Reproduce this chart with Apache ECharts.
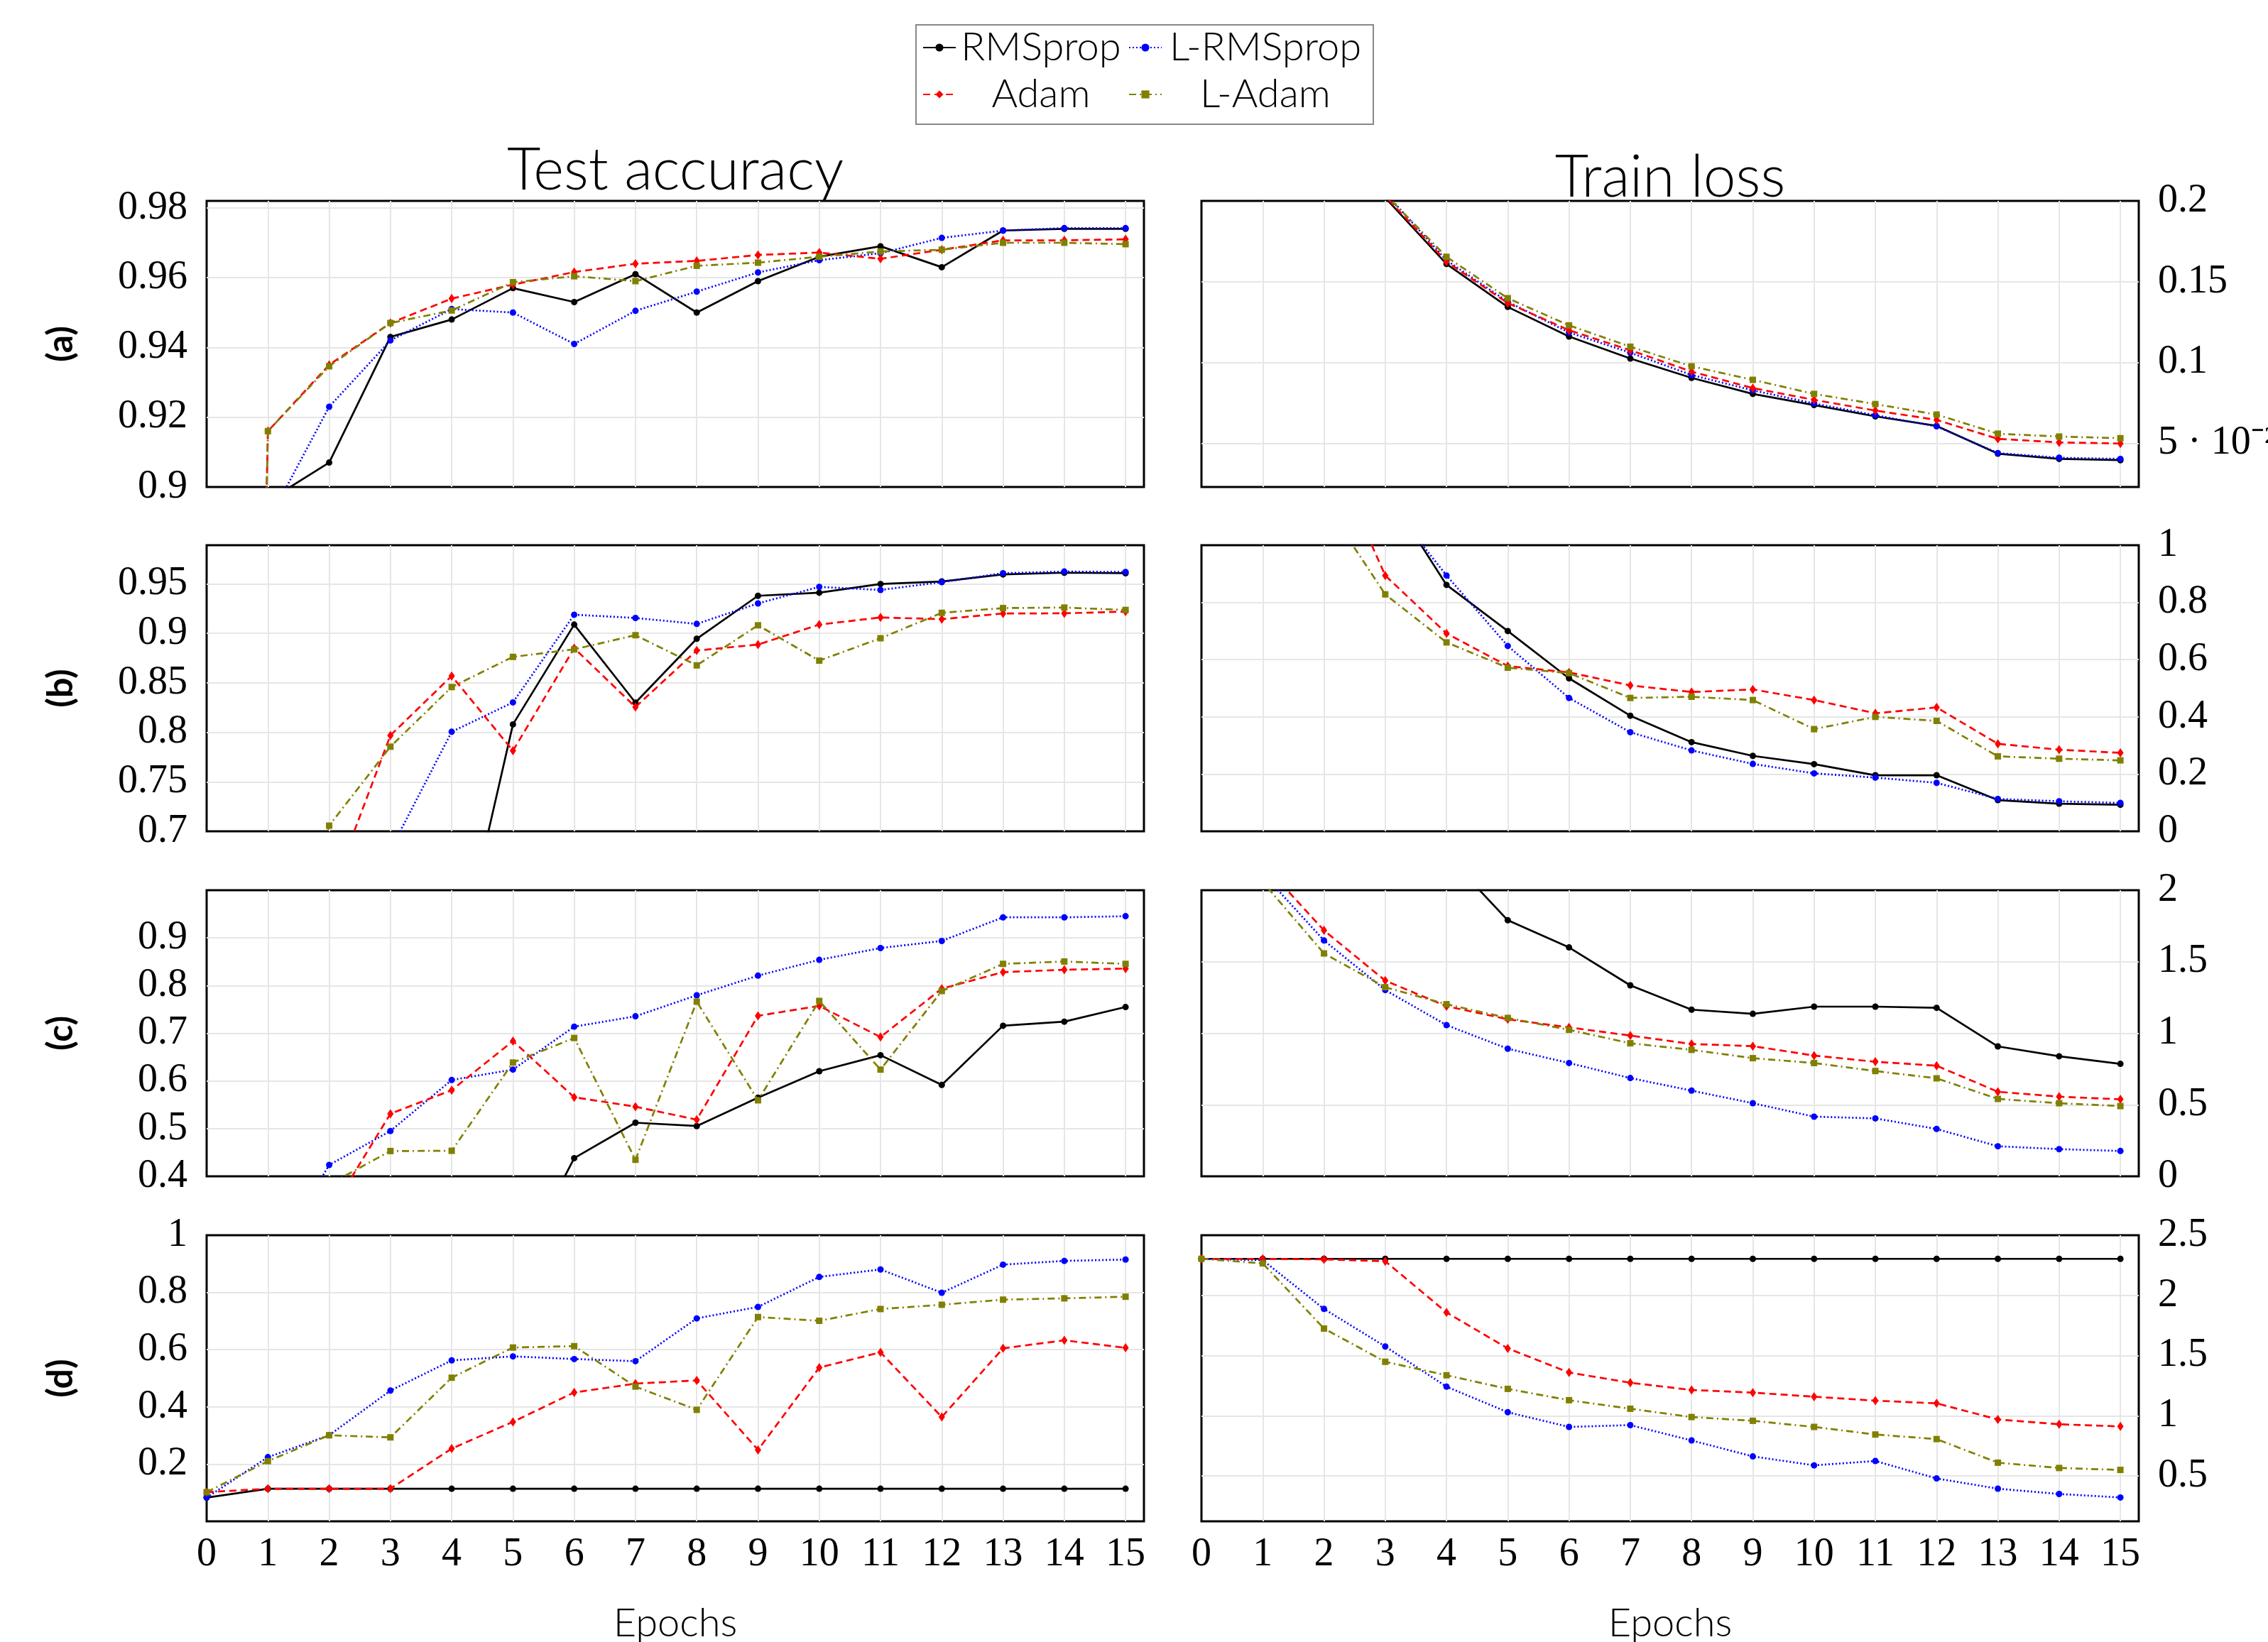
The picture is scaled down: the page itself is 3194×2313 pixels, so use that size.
<!DOCTYPE html>
<html><head><meta charset="utf-8">
<script src="https://cdn.jsdelivr.net/npm/echarts@6/dist/echarts.min.js"></script>
<style>html,body{margin:0;padding:0;background:#fff}#c{width:3194px;height:2313px}</style>
</head><body><div id="c"></div>
<script>
// ---------- DATA ----------
const epochs = [0,1,2,3,4,5,6,7,8,9,10,11,12,13,14,15];
const methodNames = ['RMSprop','L-RMSprop','Adam','L-Adam'];

// (a)
const accA_RMSprop  = [0.100,0.896,0.907,0.943,0.948,0.957,0.953,0.961,0.950,0.959,0.966,0.969,0.963,0.9735,0.974,0.974];
const accA_LRMSprop = [0.100,0.890,0.923,0.942,0.951,0.950,0.941,0.9505,0.956,0.9615,0.965,0.967,0.9714,0.9735,0.9742,0.9742];
const accA_Adam     = [0.100,0.916,0.935,0.947,0.954,0.958,0.9616,0.964,0.9648,0.9665,0.9672,0.9654,0.968,0.9707,0.9707,0.971];
const accA_LAdam    = [0.100,0.916,0.9346,0.947,0.9506,0.9587,0.9604,0.959,0.9634,0.9643,0.966,0.9675,0.968,0.970,0.970,0.9696];
const lossA_RMSprop  = [2.30,0.42,0.26,0.202,0.161,0.1344,0.1161,0.1025,0.0905,0.0806,0.0737,0.0667,0.0608,0.0436,0.0404,0.0396];
const lossA_LRMSprop = [2.30,0.43,0.27,0.205,0.1632,0.1376,0.1186,0.1061,0.0923,0.0828,0.0747,0.0674,0.0605,0.0440,0.0411,0.0404];
const lossA_Adam     = [2.30,0.43,0.27,0.203,0.1624,0.1368,0.1200,0.1076,0.0944,0.0842,0.0769,0.0703,0.0645,0.0528,0.0506,0.0499];
const lossA_LAdam    = [2.30,0.44,0.28,0.204,0.1654,0.1398,0.1230,0.1098,0.0977,0.0893,0.0806,0.0743,0.0678,0.0560,0.0542,0.0532];
// (b)
const accB_RMSprop  = [0.100,0.20,0.32,0.45,0.538,0.808,0.9088,0.830,0.8945,0.9379,0.941,0.9498,0.9524,0.9595,0.9612,0.9607];
const accB_LRMSprop = [0.100,0.30,0.50,0.681,0.8005,0.8302,0.9188,0.9155,0.9095,0.9302,0.9469,0.9438,0.9517,0.9607,0.9624,0.9619];
const accB_Adam     = [0.100,0.40,0.633,0.7969,0.8569,0.7814,0.885,0.8255,0.8826,0.8886,0.9088,0.916,0.9143,0.920,0.9202,0.9219];
const accB_LAdam    = [0.100,0.50,0.7057,0.7855,0.8457,0.8762,0.8838,0.8981,0.8676,0.9081,0.8724,0.895,0.9207,0.9255,0.926,0.9236];
const lossB_RMSprop  = [2.30,1.90,1.50,1.196,0.8612,0.700,0.5347,0.4041,0.3116,0.2636,0.2347,0.1959,0.1959,0.1091,0.0967,0.0926];
const lossB_LRMSprop = [2.30,1.90,1.45,1.165,0.8942,0.6479,0.4661,0.3463,0.2826,0.2355,0.2025,0.1876,0.1694,0.1132,0.1050,0.0992];
const lossB_Adam     = [2.30,1.80,1.375,0.8942,0.6917,0.5777,0.5554,0.5099,0.4868,0.4959,0.4587,0.4124,0.4331,0.3058,0.2851,0.2744];
const lossB_LAdam    = [2.30,1.60,1.152,0.8281,0.6603,0.5719,0.5529,0.4661,0.4702,0.4587,0.357,0.400,0.386,0.262,0.2537,0.2479];
// (c)
const accC_RMSprop  = [0.100,0.11,0.11,0.12,0.15,0.19,0.4381,0.5124,0.5054,0.5649,0.6203,0.654,0.5916,0.7158,0.7243,0.755];
const accC_LRMSprop = [0.100,0.207,0.4238,0.495,0.602,0.6238,0.7139,0.7356,0.7797,0.8208,0.854,0.8787,0.8936,0.9431,0.9431,0.9455];
const accC_Adam     = [0.100,0.20,0.321,0.5312,0.5807,0.6837,0.5658,0.546,0.5188,0.7366,0.7574,0.6921,0.7936,0.8282,0.8332,0.8356];
const accC_LAdam    = [0.100,0.20,0.383,0.453,0.4535,0.6386,0.6901,0.4347,0.7663,0.5594,0.7678,0.6238,0.7886,0.8455,0.8505,0.8455];
const lossC_RMSprop  = [2.30,2.30,2.29,2.27,2.246,1.79,1.60,1.335,1.165,1.136,1.186,1.186,1.178,0.908,0.839,0.786];
const lossC_LRMSprop = [2.30,2.117,1.649,1.302,1.057,0.892,0.792,0.687,0.599,0.511,0.417,0.405,0.331,0.210,0.190,0.177];
const lossC_Adam     = [2.30,2.187,1.719,1.368,1.189,1.098,1.041,0.984,0.925,0.910,0.844,0.801,0.773,0.591,0.557,0.538];
const lossC_LAdam    = [2.30,2.058,1.558,1.322,1.203,1.107,1.024,0.930,0.884,0.826,0.792,0.736,0.685,0.541,0.511,0.491];
// (d)
const accD_RMSprop  = [0.083,0.114,0.114,0.114,0.114,0.114,0.114,0.114,0.114,0.114,0.114,0.114,0.114,0.114,0.114,0.114];
const accD_LRMSprop = [0.083,0.2243,0.3009,0.457,0.5626,0.5766,0.5673,0.5598,0.7093,0.7495,0.8542,0.8804,0.7991,0.8972,0.9103,0.915];
const accD_Adam     = [0.102,0.114,0.114,0.114,0.2542,0.3477,0.4505,0.4813,0.4925,0.2495,0.5374,0.5907,0.3645,0.6047,0.6327,0.6065];
const accD_LAdam    = [0.102,0.2103,0.3009,0.2935,0.5019,0.6075,0.6122,0.471,0.3897,0.714,0.7009,0.7421,0.757,0.7748,0.7794,0.785];
const lossD_RMSprop  = [2.304,2.304,2.304,2.304,2.304,2.304,2.304,2.304,2.304,2.304,2.304,2.304,2.304,2.304,2.304,2.304];
const lossD_LRMSprop = [2.304,2.293,1.888,1.576,1.242,1.030,0.908,0.923,0.796,0.663,0.589,0.625,0.480,0.395,0.351,0.322];
const lossD_Adam     = [2.304,2.304,2.300,2.284,1.859,1.560,1.360,1.275,1.215,1.193,1.159,1.126,1.104,0.970,0.930,0.912];
const lossD_LAdam    = [2.304,2.266,1.725,1.449,1.337,1.224,1.130,1.059,0.990,0.959,0.908,0.845,0.807,0.611,0.567,0.551];

// tick labels
const xTickLabels   = epochs;
const yTicksAccA  = [0.9,0.92,0.94,0.96,0.98];
const yTicksLossA = [0.05,0.1,0.15,0.2];
const yTicksAccB  = [0.7,0.75,0.8,0.85,0.9,0.95];
const yTicksLossB = [0,0.2,0.4,0.6,0.8,1];
const yTicksAccC  = [0.4,0.5,0.6,0.7,0.8,0.9];
const yTicksLossC = [0,0.5,1,1.5,2];
const yTicksAccD  = [0.2,0.4,0.6,0.8,1];
const yTicksLossD = [0.5,1,1.5,2,2.5];
const rowLabels = ['(a)','(b)','(c)','(d)'];

// ---------- CHART ----------
const panels = [
  {row:0,col:0,min:0.9,  max:0.982,ticks:yTicksAccA, data:[accA_RMSprop,accA_LRMSprop,accA_Adam,accA_LAdam]},
  {row:0,col:1,min:0.023,max:0.2,  ticks:yTicksLossA,data:[lossA_RMSprop,lossA_LRMSprop,lossA_Adam,lossA_LAdam]},
  {row:1,col:0,min:0.7,  max:0.989,ticks:yTicksAccB, data:[accB_RMSprop,accB_LRMSprop,accB_Adam,accB_LAdam]},
  {row:1,col:1,min:0,    max:1,    ticks:yTicksLossB,data:[lossB_RMSprop,lossB_LRMSprop,lossB_Adam,lossB_LAdam]},
  {row:2,col:0,min:0.4,  max:1.0,  ticks:yTicksAccC, data:[accC_RMSprop,accC_LRMSprop,accC_Adam,accC_LAdam]},
  {row:2,col:1,min:0,    max:2,    ticks:yTicksLossC,data:[lossC_RMSprop,lossC_LRMSprop,lossC_Adam,lossC_LAdam]},
  {row:3,col:0,min:0,    max:1,    ticks:yTicksAccD, data:[accD_RMSprop,accD_LRMSprop,accD_Adam,accD_LAdam]},
  {row:3,col:1,min:0.124,max:2.5,  ticks:yTicksLossD,data:[lossD_RMSprop,lossD_LRMSprop,lossD_Adam,lossD_LAdam]}
];
const styles = [
  {color:'#000000', type:'solid',        symbol:'circle',  size:9},
  {color:'#0000ff', type:[2,3],          symbol:'circle',  size:9},
  {color:'#ff0000', type:[10,6],         symbol:'diamond', size:[9,13]},
  {color:'#808000', type:[10,5,2,5],     symbol:'rect',    size:9}
];
const rowTop = [283, 768, 1254, 1740];
const rowH = 403;
const colLeft = [291, 1692];
const colW = 1320;
const XMAX = 15.3;
const tickFont = 'Liberation Serif';
const fmt = v => (Math.abs(v - 0.05) < 1e-9) ? '5 · 10⁻²' : String(parseFloat(Number(v).toFixed(6)));
const gridLineStyle = {color:'#e6e6e6', width:2};

const grid = [], xAxis = [], yAxis = [], series = [];
panels.forEach((p, i) => {
  grid.push({left: colLeft[p.col], top: rowTop[p.row], width: colW, height: rowH,
    show: true, borderColor: '#000', borderWidth: 3, backgroundColor: 'rgba(0,0,0,0)',
    outerBoundsMode: 'none'});
  const bottom = p.row === 3;
  xAxis.push({type:'value', gridIndex:i, min:0, max:XMAX,
    axisLine:{show:false},
    axisTick:{show:false, customValues: xTickLabels.filter(v => v > 0 && v < XMAX)},
    axisLabel:{show: bottom, customValues: xTickLabels, margin: 19, fontFamily: tickFont, fontSize: 56, color:'#000', formatter: fmt},
    splitLine:{show:true, lineStyle: gridLineStyle},
    name: bottom ? 'Epochs' : '', nameLocation:'middle', nameGap: 116,
    nameTextStyle:{fontFamily:'Lato', fontWeight:300, fontSize:56, color:'#000'}
  });
  const interior = p.ticks.filter(v => v > p.min + 1e-9 && v < p.max - 1e-9);
  yAxis.push({type:'value', gridIndex:i, min:p.min, max:p.max, position: p.col === 0 ? 'left' : 'right',
    axisLine:{show:false},
    axisTick:{show:false, customValues: interior},
    axisLabel:{customValues: p.ticks, margin: 27, fontFamily: tickFont, fontSize: 56, color:'#000', formatter: fmt},
    splitLine:{show:true, lineStyle: gridLineStyle},
    name: p.col === 0 ? rowLabels[p.row] : '', nameLocation:'middle', nameRotate: 90, nameGap: 180,
    nameTextStyle:{fontFamily:'Lato', fontWeight:'bold', fontSize:50, color:'#000'}
  });
  p.data.forEach((vals, m) => {
    const s = styles[m];
    series.push({type:'line', name: methodNames[m], xAxisIndex:i, yAxisIndex:i,
      data: epochs.map((e, k) => [e, vals[k]]),
      symbol: s.symbol, symbolSize: s.size, showSymbol: true, clip: true,
      lineStyle:{color: s.color, width: 2.7, type: s.type},
      itemStyle:{color: s.color},
      emphasis:{disabled:true}, z: 2 + m
    });
  });
});

const legendFont = {fontFamily:'Lato', fontWeight:300, fontSize:56, color:'#000', height:58, lineHeight:58};
const chart = echarts.init(document.getElementById('c'), null, {renderer:'canvas'});
chart.setOption({
  animation: false,
  backgroundColor: '#fff',
  grid, xAxis, yAxis, series,
  legend: {
    data: ['RMSprop','L-RMSprop','Adam','L-Adam'],
    left: 1290, top: 35, width: 630,
    padding: [3, 11, 13, 9],
    borderColor: '#888', borderWidth: 2,
    itemWidth: 46, itemHeight: 14, itemGap: 8,
    selectedMode: false,
    formatter: name => (name === 'RMSprop' || name === 'Adam') ? '{a|' + name + '}' : '{b|' + name + '}',
    textStyle: Object.assign({}, legendFont, {
      rich: {
        a: Object.assign({}, legendFont, {width: 230, align: 'center'}),
        b: Object.assign({}, legendFont, {width: 282, align: 'center'})
      }
    })
  },
  graphic: [
    {type:'text', x: 951, y: 282, style:{text:'Test accuracy', font:'300 82px Lato', fill:'#000', align:'center', verticalAlign:'bottom'}},
    {type:'text', x: 2352, y: 292, style:{text:'Train loss', font:'300 82px Lato', fill:'#000', align:'center', verticalAlign:'bottom'}}
  ]
});
</script></body></html>
